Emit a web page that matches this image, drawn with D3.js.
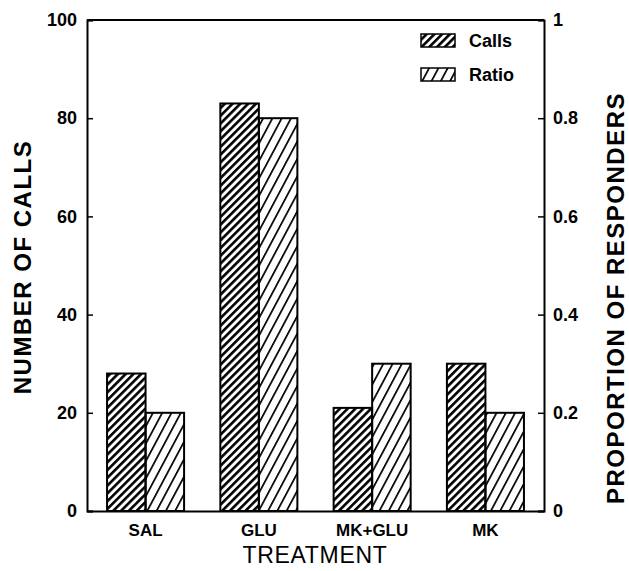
<!DOCTYPE html>
<html>
<head>
<meta charset="utf-8">
<script src="https://cdn.jsdelivr.net/npm/d3@7"></script>
<style>
  body { margin: 0; background: #fff; }
  svg { font-family: "Liberation Sans", Arial, sans-serif; }
</style>
</head>
<body>
<svg width="629" height="571"></svg>
<script>
const categories = ["SAL", "GLU", "MK+GLU", "MK"];
const callsValues = [28, 83, 21, 30];
const ratioValues = [0.2, 0.8, 0.3, 0.2];
const leftTicks = [0, 20, 40, 60, 80, 100];
const rightTicks = [0, 0.2, 0.4, 0.6, 0.8, 1];

const svg = d3.select("svg");
const plotLeft = 87, plotRight = 544, plotTop = 20, plotBottom = 511;

// hatch patterns
const defs = svg.append("defs");
defs.append("pattern")
    .attr("id", "hatchCalls")
    .attr("patternUnits", "userSpaceOnUse")
    .attr("width", 5.5).attr("height", 5.5)
    .attr("patternTransform", "rotate(45)")
    .append("rect")
    .attr("x", 0).attr("y", 0)
    .attr("width", 2.6).attr("height", 5.5)
    .attr("fill", "#000");
defs.append("pattern")
    .attr("id", "hatchRatio")
    .attr("patternUnits", "userSpaceOnUse")
    .attr("width", 8.2).attr("height", 8.2)
    .attr("patternTransform", "rotate(28)")
    .append("rect")
    .attr("x", 0).attr("y", 0)
    .attr("width", 1.7).attr("height", 8.2)
    .attr("fill", "#000");

const x = d3.scaleBand().domain(categories)
    .range([plotLeft, plotRight]).paddingInner(0.32).paddingOuter(0.177);
const xSub = d3.scaleBand().domain(["calls", "ratio"])
    .range([0, x.bandwidth()]);
const yL = d3.scaleLinear().domain([0, 100]).range([plotBottom, plotTop]);
const yR = d3.scaleLinear().domain([0, 1]).range([plotBottom, plotTop]);

// bars
const g = svg.append("g");
categories.forEach((c, i) => {
    g.append("rect")
        .attr("x", x(c) + xSub("calls"))
        .attr("y", yL(callsValues[i]))
        .attr("width", xSub.bandwidth())
        .attr("height", yL(0) - yL(callsValues[i]))
        .attr("fill", "url(#hatchCalls)")
        .attr("stroke", "#000").attr("stroke-width", 2);
    g.append("rect")
        .attr("x", x(c) + xSub("ratio"))
        .attr("y", yR(ratioValues[i]))
        .attr("width", xSub.bandwidth())
        .attr("height", yR(0) - yR(ratioValues[i]))
        .attr("fill", "url(#hatchRatio)")
        .attr("stroke", "#000").attr("stroke-width", 2);
});

// axes (ticks point inward)
const axL = svg.append("g")
    .attr("transform", `translate(${plotLeft},0)`)
    .call(d3.axisRight(yL).tickValues(leftTicks).tickSize(6).tickFormat(d3.format("d")));
axL.selectAll("text").attr("x", -10).attr("text-anchor", "end");

const axR = svg.append("g")
    .attr("transform", `translate(${plotRight},0)`)
    .call(d3.axisLeft(yR).tickValues(rightTicks).tickSize(6)
        .tickFormat(d => d === 0 || d === 1 ? d3.format("d")(d) : d3.format(".1f")(d)));
axR.selectAll("text").attr("x", 9).attr("text-anchor", "start");

const axB = svg.append("g")
    .attr("transform", `translate(0,${plotBottom})`)
    .call(d3.axisBottom(x).tickSize(0).tickPadding(13));

[axL, axR, axB].forEach(a => {
    a.select(".domain").attr("stroke", "#000").attr("stroke-width", 2);
    a.selectAll(".tick line").attr("stroke", "#000").attr("stroke-width", 1.5);
    a.selectAll("text")
        .attr("fill", "#000")
        .style("font-size", "18px")
        .style("font-weight", "bold")
        .style("font-family", "'Liberation Sans', Arial, sans-serif");
});
axB.selectAll("text").style("font-size", "17px");

// top border
svg.append("line")
    .attr("x1", plotLeft).attr("x2", plotRight)
    .attr("y1", plotTop).attr("y2", plotTop)
    .attr("stroke", "#000").attr("stroke-width", 2);

// titles
svg.append("text")
    .attr("transform", "translate(31,267) rotate(-90)")
    .attr("text-anchor", "middle")
    .style("font-size", "24px")
    .style("font-weight", "bold")
    .style("letter-spacing", "1.5px")
    .text("NUMBER OF CALLS");
svg.append("text")
    .attr("transform", "translate(624,298) rotate(-90)")
    .attr("text-anchor", "middle")
    .style("font-size", "24px")
    .style("font-weight", "bold")
    .style("letter-spacing", "1.5px")
    .text("PROPORTION OF RESPONDERS");
svg.append("text")
    .attr("x", 315).attr("y", 563)
    .attr("text-anchor", "middle")
    .style("font-size", "23px")
    .style("letter-spacing", "0.7px")
    .text("TREATMENT");

// legend
const legend = [
    { label: "Calls", fill: "url(#hatchCalls)" },
    { label: "Ratio", fill: "url(#hatchRatio)" }
];
legend.forEach((d, i) => {
    const ly = 34 + i * 34;
    svg.append("rect")
        .attr("x", 421).attr("y", ly)
        .attr("width", 34).attr("height", 13)
        .attr("fill", d.fill)
        .attr("stroke", "#000").attr("stroke-width", 1.5);
    svg.append("text")
        .attr("x", 469).attr("y", ly + 13)
        .style("font-size", "18px")
        .style("font-weight", "bold")
        .text(d.label);
});
</script>
</body>
</html>
